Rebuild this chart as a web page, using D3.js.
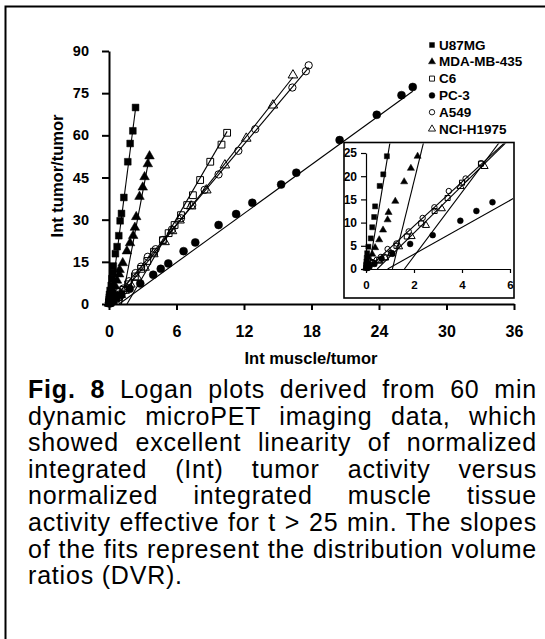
<!DOCTYPE html>
<html>
<head>
<meta charset="utf-8">
<script src="https://cdn.jsdelivr.net/npm/d3@7"></script>
<style>
body { margin: 0; background: #fff; }
#wrap { position: relative; width: 545px; height: 639px; overflow: hidden; }
#wrap svg { position: absolute; left: 0; top: 0; }
text { font-family: "Liberation Sans", Arial, sans-serif; font-weight: bold; fill: #000; }
.caption { position: absolute; left: 28px; top: 376px; width: 509px;
           font-family: "Liberation Sans", Arial, sans-serif; font-size: 25px;
           line-height: 26.6px; letter-spacing: 0.8px; color: #000; }
.caption div { text-align: justify; text-align-last: justify; white-space: nowrap; }
.caption div.last { text-align-last: left; }
</style>
</head>
<body>
<div id="wrap"></div>
<script>
var width = 545;
var height = 639;

// series names, in legend order
var series = ["U87MG", "MDA-MB-435", "C6", "PC-3", "A549", "NCI-H1975"];

// [Int muscle/tumor, Int tumor/tumor]
var u87mg = [[0.0,0.4],[0.01,1.0],[0.02,1.6],[0.03,2.4],[0.05,3.4],[0.1,4.8],[0.2,6.6],[0.26,9.0],
             [0.34,11.2],[0.38,13.5],[0.57,17.9],[0.72,20.4],[0.87,24.3],[0.99,29.6],[1.11,32.2],
             [1.32,37.9],[1.67,50.6],[1.88,57.1],[2.12,61.6],[2.36,69.9]];
var mda = [[0.02,0.5],[0.05,1.5],[0.1,2.5],[0.26,3.2],[0.38,4.6],[0.55,6.3],[0.71,8.4],[0.9,10.6],
           [0.94,12.2],[1.22,14.6],[1.59,18.8],[1.87,21.7],[2.15,24.3],[2.3,27.2],[2.42,31],
           [2.71,38.2],[3.0,41.5],[3.16,45.2],[3.45,49.8],[3.6,52.6]];
var c6 = [[0.03,0.3],[0.1,0.8],[0.3,1.3],[0.55,1.9],[0.8,2.5],[1.05,3.4],[1.27,5.0],[1.7,7.0],
          [2.3,9.8],[2.86,12.5],[3.4,15.3],[4.0,18.6],[4.79,22.7],[5.3,25.2],[5.83,28.1],[6.4,31.6],
          [6.95,35.2],[7.46,38.7],[8.1,44.1],[9.0,50.6],[10.0,56.7],[10.5,60.9]];
var pc3 = [[0.05,0.2],[0.15,0.6],[0.35,1.1],[0.65,2.2],[1.1,3.3],[1.84,5.4],[2.78,7.3],[3.93,10.4],
           [4.6,12.5],[5.27,14.4],[6.63,18.8],[7.67,21.9],[9.74,28.1],[11.3,32],[12.74,36],
           [15.3,42.5],[16.65,46.7],[20.5,58.3],[23.8,67.3],[26.0,74.3],[27.0,77.2]];
var a549 = [[0.03,0.4],[0.1,0.9],[0.25,1.5],[0.45,2.0],[0.62,2.6],[0.9,4.3],[1.27,5.5],[1.78,8.1],
            [2.36,11],[2.85,13.3],[3.45,16.8],[4.15,19.5],[4.8,22.8],[5.6,26.5],[6.4,30.5],
            [7.4,35.2],[8.5,40.6],[9.74,46.1],[11.5,54.5],[13.0,62.2],[16.3,77],[17.5,82.8],[17.75,84.9]];
var nci = [[0.02,0.2],[0.1,0.6],[0.3,1.1],[0.55,1.7],[0.8,2.4],[1.05,3.3],[1.38,4.8],[1.9,7.0],
           [2.5,9.4],[3.16,13.0],[3.94,17.8],[4.94,22.1],[5.6,26.0],[6.27,29.8],[7.3,34.8],
           [8.65,40.5],[10.3,49.4],[12.2,58.9],[14.57,70.7],[16.35,81.4]];
var seriesData = [u87mg, mda, c6, pc3, a549, nci];

// linear fits (slope, x where the fit crosses 0)
var fitSlope = [31, 21, 6.9, 2.9, 4.75, 5.08];
var fitXInt = [0.12, 1.1, 1.6, 0.9, 0.05, 0.47];

var xTicks = [0, 6, 12, 18, 24, 30, 36];
var yTicks = [0, 15, 30, 45, 60, 75, 90];
var insetXTicks = [0, 2, 4, 6];
var insetYTicks = [0, 5, 10, 15, 20, 25];

var captionLines = [
  "<b>Fig. 8</b> Logan plots derived from 60 min",
  "dynamic microPET imaging data, which",
  "showed excellent linearity of normalized",
  "integrated (Int) tumor activity versus",
  "normalized integrated muscle tissue",
  "activity effective for t &gt; 25 min. The slopes",
  "of the fits represent the distribution volume",
  "ratios (DVR)."
];

// marker style per series
var shapes = [d3.symbolSquare, d3.symbolTriangle, d3.symbolSquare, d3.symbolCircle, d3.symbolCircle, d3.symbolTriangle];
var filled = [true, true, false, true, false, false];
var sizes = [46, 40, 46, 50, 42, 40];

var svg = d3.select("#wrap").append("svg")
            .attr("width", width)
            .attr("height", height);

// outer frame
svg.append("path")
   .attr("d", "M5.5,640 L5.5,6.5 L546,6.5")
   .attr("fill", "none")
   .attr("stroke", "#000")
   .attr("stroke-width", 2);

// main plot scales
var x = d3.scaleLinear().domain([0, 36]).range([109, 514]);
var y = d3.scaleLinear().domain([0, 90]).range([304, 51]);

function drawMarks(g, sx, sy, scaleFactor, clip) {
  seriesData.forEach(function(data, i) {
    var x0 = fitXInt[i];
    var x1 = d3.max(data, function(d) { return d[0]; });
    g.append("line")
     .attr("x1", sx(x0)).attr("y1", sy(0))
     .attr("x2", sx(x1)).attr("y2", sy(fitSlope[i] * (x1 - x0)))
     .attr("stroke", "#000")
     .attr("stroke-width", 1.1)
     .attr("clip-path", clip);
  });
  seriesData.forEach(function(data, i) {
    var pts = data.filter(function(d) {
      return d[0] <= sx.domain()[1] && d[1] <= sy.domain()[1];
    });
    g.selectAll(null)
     .data(pts)
     .enter()
     .append("path")
     .attr("d", d3.symbol().type(shapes[i]).size(sizes[i] * scaleFactor))
     .attr("transform", function(d) { return "translate(" + sx(d[0]) + "," + sy(d[1]) + ")"; })
     .attr("fill", filled[i] ? "#000" : "none")
     .attr("stroke", "#000")
     .attr("stroke-width", filled[i] ? 0.5 : 1);
  });
}

var main = svg.append("g");
drawMarks(main, x, y, 1, null);

var xAxis = d3.axisBottom(x).tickValues(xTicks).tickSizeInner(6).tickSizeOuter(0).tickPadding(16);
var gx = svg.append("g")
   .attr("transform", "translate(0," + y(0) + ")")
   .call(xAxis);
gx.selectAll("text").style("font-size", "16px");

var yAxis = d3.axisLeft(y).tickValues(yTicks).tickSizeInner(7).tickSizeOuter(0).tickPadding(13);
var gy = svg.append("g")
   .attr("transform", "translate(" + x(0) + ",0)")
   .call(yAxis);
gy.selectAll("text").style("font-size", "14.5px");

svg.selectAll(".domain, .tick line").attr("stroke", "#000").attr("stroke-width", 2);

svg.append("text")
   .attr("x", 311)
   .attr("y", 364)
   .attr("text-anchor", "middle")
   .style("font-size", "16.5px")
   .text("Int muscle/tumor");

svg.append("text")
   .attr("transform", "translate(63,176) rotate(-90)")
   .attr("text-anchor", "middle")
   .style("font-size", "16.5px")
   .text("Int tumor/tumor");

// legend
var legend = svg.append("g");
series.forEach(function(name, i) {
  var ly = 45 + i * 16.8;
  legend.append("path")
        .attr("d", d3.symbol().type(shapes[i]).size(sizes[i] * 0.55))
        .attr("transform", "translate(432," + ly + ")")
        .attr("fill", filled[i] ? "#000" : "none")
        .attr("stroke", "#000")
        .attr("stroke-width", filled[i] ? 0.4 : 0.9);
  legend.append("text")
        .attr("x", 439)
        .attr("y", ly + 4.6)
        .style("font-size", "13.5px")
        .text(name);
});

// inset
var ix = d3.scaleLinear().domain([0, 6]).range([366, 510]);
var iy = d3.scaleLinear().domain([0, 25]).range([269, 153]);

svg.append("rect")
   .attr("x", 344).attr("y", 142.5)
   .attr("width", 170).attr("height", 155.5)
   .attr("fill", "#fff")
   .attr("stroke", "#000")
   .attr("stroke-width", 1.6);

svg.append("clipPath")
   .attr("id", "insetClip")
   .append("rect")
   .attr("x", ix(0)).attr("y", 143.5)
   .attr("width", ix(6) - ix(0) + 3).attr("height", iy(0) - 143.5);

var inset = svg.append("g");
drawMarks(inset, ix, iy, 0.55, "url(#insetClip)");

var ixAxis = d3.axisBottom(ix).tickValues(insetXTicks).tickFormat(d3.format("d"))
               .tickSizeInner(4).tickSizeOuter(0).tickPadding(8);
var gix = svg.append("g")
   .attr("transform", "translate(0," + iy(0) + ")")
   .call(ixAxis);
var iyAxis = d3.axisLeft(iy).tickValues(insetYTicks).tickFormat(d3.format("d"))
               .tickSizeInner(5).tickSizeOuter(0).tickPadding(4);
var giy = svg.append("g")
   .attr("transform", "translate(" + ix(0) + ",0)")
   .call(iyAxis);
gix.selectAll("text").style("font-size", "11.5px");
giy.selectAll("text").style("font-size", "12px");
gix.selectAll(".domain, .tick line").attr("stroke", "#000").attr("stroke-width", 1.2);
giy.selectAll(".domain, .tick line").attr("stroke", "#000").attr("stroke-width", 1.2);

// caption
var cap = d3.select("#wrap").append("div").attr("class", "caption");
captionLines.forEach(function(line, i) {
  cap.append("div")
     .attr("class", i === captionLines.length - 1 ? "last" : null)
     .html(line);
});
</script>
</body>
</html>
